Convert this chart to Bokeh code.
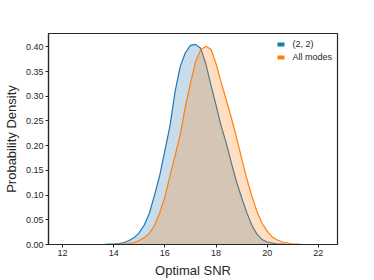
from bokeh.plotting import figure
from bokeh.models import Range1d, FixedTicker, NumeralTickFormatter, Legend, LegendItem
from bokeh.embed import file_html
from bokeh.resources import INLINE
import numpy as np

snr = [12.0, 12.4, 12.8, 13.2, 13.6, 13.8, 14.0, 14.2, 14.4, 14.6, 14.8, 15.0, 15.2, 15.4, 15.6, 15.8,
       16.0, 16.2, 16.4, 16.6, 16.8, 17.0, 17.2, 17.4, 17.6, 17.8, 18.0, 18.2, 18.4, 18.6, 18.8,
       19.0, 19.2, 19.4, 19.6, 19.8, 20.0, 20.2, 20.4, 20.6, 20.8, 21.0, 21.2, 21.4, 21.6, 22.0]
density_22 = [0.000, 0.000, 0.000, 0.000, 0.000, 0.001, 0.001, 0.002, 0.004, 0.008, 0.014, 0.024, 0.040, 0.064, 0.101, 0.140,
              0.190, 0.240, 0.310, 0.360, 0.388, 0.403, 0.405, 0.397, 0.366, 0.323, 0.282, 0.240, 0.205, 0.165, 0.127,
              0.095, 0.065, 0.039, 0.021, 0.010, 0.005, 0.003, 0.001, 0.001, 0.000, 0.000, 0.000, 0.000, 0.000, 0.000]
density_all = [0.000, 0.000, 0.000, 0.000, 0.000, 0.000, 0.000, 0.001, 0.001, 0.002, 0.004, 0.008, 0.014, 0.023, 0.039, 0.064,
               0.096, 0.139, 0.180, 0.222, 0.279, 0.326, 0.370, 0.394, 0.401, 0.395, 0.366, 0.328, 0.293, 0.256, 0.217,
               0.175, 0.134, 0.098, 0.067, 0.043, 0.027, 0.015, 0.009, 0.005, 0.003, 0.001, 0.001, 0.000, 0.000, 0.000]
labels = ["(2, 2)", "All modes"]
colors = ["#1f77b4", "#ff7f0e"]
x_ticks = [12, 14, 16, 18, 20, 22]
y_ticks = [0.0, 0.05, 0.10, 0.15, 0.20, 0.25, 0.30, 0.35, 0.40]

p = figure(width=374, height=280, output_backend="svg", toolbar_location=None,
           x_range=Range1d(11.45, 22.75), y_range=Range1d(0, 0.427),
           min_border_left=47, min_border_top=33, min_border_right=37, min_border_bottom=36)

ink = "#262626"
p.background_fill_color = "white"
p.border_fill_color = "white"
p.outline_line_color = ink
p.outline_line_width = 1.2
p.xgrid.visible = False
p.ygrid.visible = False

legend_items = []
for dens, lab, col in zip([density_22, density_all], labels, colors):
    p.varea(x=snr, y1=0, y2=dens, fill_color=col, fill_alpha=0.25)
    p.line(x=snr, y=dens, line_color=col, line_width=1.2)
    dummy = p.line(x=[np.nan], y=[np.nan], line_color=col, line_width=4, line_cap="round")
    legend_items.append(LegendItem(label=lab, renderers=[dummy]))

legend = Legend(items=legend_items, location="top_right", border_line_color=None,
                background_fill_alpha=0, label_text_font="Liberation Sans",
                label_text_font_size="9px", label_text_color=ink, glyph_width=7, glyph_height=12,
                label_height=12, spacing=1, padding=2, margin=5, label_standoff=8)
p.add_layout(legend)

for ax in (p.xaxis, p.yaxis):
    ax.axis_line_color = ink
    ax.axis_line_width = 1.2
    ax.major_tick_line_color = ink
    ax.major_tick_in = 0
    ax.major_tick_out = 3
    ax.minor_tick_line_color = None
    ax.major_label_text_font = "Liberation Sans"
    ax.major_label_text_font_size = "9px"
    ax.major_label_text_color = ink
    ax.major_label_standoff = 2
    ax.axis_label_text_font = "Liberation Sans"
    ax.axis_label_text_font_size = "13px"
    ax.axis_label_text_font_style = "normal"
    ax.axis_label_text_color = ink
    ax.axis_label_standoff = 4

p.xaxis.ticker = FixedTicker(ticks=x_ticks)
p.yaxis.ticker = FixedTicker(ticks=y_ticks)
p.yaxis.formatter = NumeralTickFormatter(format="0.00")
p.xaxis.axis_label = "Optimal SNR"
p.yaxis.axis_label = "Probability Density"

open("out.html", "w").write(file_html(p, INLINE))
